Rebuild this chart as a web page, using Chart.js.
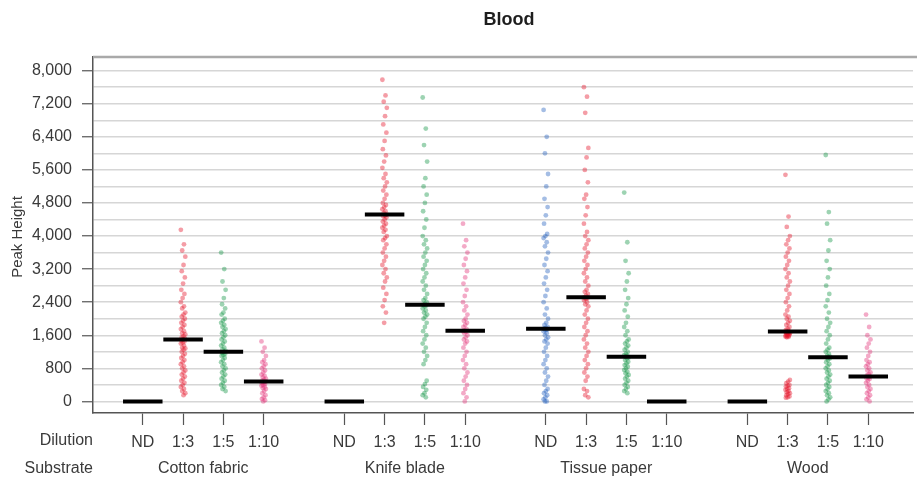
<!DOCTYPE html>
<html>
<head>
<meta charset="utf-8">
<title>Blood</title>
<script src="https://cdn.jsdelivr.net/npm/chart.js@4.4.1/dist/chart.umd.min.js"></script>
<style>
  html, body { margin: 0; padding: 0; background: #fff; }
  canvas { display: block; }
</style>
</head>
<body>
<canvas id="bloodChart" width="917" height="479"></canvas>
<script>
// x axis groups: substrate, then dilution inside each substrate
const substrates = ['Cotton fabric', 'Knife blade', 'Tissue paper', 'Wood'];
const dilutions = ['ND', '1:3', '1:5', '1:10'];

// y axis: labelled ticks every 800, grid lines every 400
const yTickValues = [0, 800, 1600, 2400, 3200, 4000, 4800, 5600, 6400, 7200, 8000];
const yGridValues = [0, 400, 800, 1200, 1600, 2000, 2400, 2800, 3200, 3600, 4000,
  4400, 4800, 5200, 5600, 6000, 6400, 6800, 7200, 7600, 8000];

// median peak height, one row per substrate, one column per dilution
const medianHeights = [
  [0, 1500, 1200, 480],
  [0, 4520, 2340, 1710],
  [1760, 2520, 1080, 0],
  [0, 1690, 1070, 600]
];

// individual peak heights per substrate / dilution
const cotton13 = [4150, 3800, 3650, 3500, 3300, 3150, 3000, 2850, 2700, 2600, 2500, 2400, 2300, 2250,
  2150, 2100, 2050, 2000, 1950, 1900, 1850, 1800, 1750, 1700, 1650, 1620, 1580, 1550, 1520, 1500,
  1480, 1450, 1420, 1400, 1350, 1300, 1280, 1250, 1200, 1150, 1100, 1050, 1000, 950, 900, 850,
  800, 750, 700, 650, 600, 550, 500, 450, 400, 350, 300, 250, 200, 150];
const cotton15 = [3600, 3200, 2900, 2700, 2500, 2350, 2250, 2150, 2100, 2000, 1950, 1900, 1850, 1800,
  1750, 1700, 1650, 1600, 1550, 1500, 1450, 1400, 1350, 1300, 1260, 1220, 1200, 1180, 1150, 1120,
  1100, 1050, 1000, 950, 900, 850, 800, 750, 700, 650, 600, 550, 500, 450, 400, 350, 300, 250];
const cotton110 = [1450, 1300, 1200, 1100, 1000, 950, 900, 850, 800, 750, 700, 650, 620, 580, 550,
  520, 500, 480, 460, 440, 420, 400, 380, 350, 320, 300, 250, 200, 150, 100, 60, 30, 0];
const knife13 = [7780, 7400, 7250, 7100, 6900, 6700, 6500, 6300, 6100, 5950, 5800, 5650, 5500, 5400,
  5300, 5200, 5100, 5000, 4900, 4800, 4750, 4700, 4650, 4600, 4560, 4520, 4500, 4480, 4450, 4400,
  4350, 4300, 4250, 4200, 4150, 4100, 4000, 3950, 3900, 3800, 3700, 3600, 3500, 3400, 3300, 3200,
  3100, 3000, 2900, 2750, 2600, 2450, 2300, 2150, 1900];
const knife15 = [7350, 6600, 6200, 5800, 5400, 5200, 5000, 4800, 4600, 4400, 4200, 4000, 3900, 3800,
  3700, 3600, 3500, 3400, 3300, 3200, 3100, 3000, 2900, 2800, 2700, 2600, 2500, 2450, 2400, 2360,
  2340, 2320, 2300, 2250, 2200, 2150, 2100, 2050, 2000, 1900, 1800, 1700, 1600, 1500, 1400, 1300,
  1200, 1100, 1000, 900, 500, 420, 350, 280, 200, 150, 100];
const knife110 = [4300, 3900, 3750, 3600, 3450, 3300, 3150, 3000, 2850, 2700, 2550, 2400, 2300, 2200,
  2100, 2000, 1950, 1900, 1850, 1800, 1750, 1720, 1700, 1680, 1650, 1600, 1550, 1500, 1450, 1400,
  1300, 1200, 1100, 1000, 900, 800, 700, 600, 500, 400, 300, 200, 100, 0];
const tissueND = [7050, 6400, 6000, 5500, 5200, 4900, 4700, 4500, 4300, 4050, 4000, 3950, 3850, 3750,
  3600, 3450, 3300, 3150, 3000, 2850, 2700, 2550, 2400, 2250, 2100, 2000, 1900, 1850, 1800, 1780,
  1760, 1740, 1720, 1700, 1650, 1600, 1550, 1500, 1450, 1400, 1300, 1200, 1100, 1000, 900, 800,
  700, 600, 500, 400, 300, 250, 200, 150, 100, 50, 0, 0];
const tissue13 = [7600, 7370, 6980, 6130, 5900, 5600, 5300, 5000, 4900, 4700, 4500, 4300, 4100, 4000,
  3900, 3800, 3700, 3600, 3500, 3400, 3300, 3200, 3100, 3000, 2900, 2800, 2700, 2650, 2600, 2560,
  2520, 2500, 2480, 2450, 2400, 2350, 2300, 2200, 2100, 2000, 1900, 1800, 1700, 1600, 1500, 1400,
  1300, 1200, 1100, 1000, 900, 800, 700, 600, 500, 300, 250, 150, 100];
const tissue15 = [5050, 3850, 3400, 3100, 2900, 2700, 2500, 2350, 2200, 2050, 1900, 1800, 1700, 1600,
  1500, 1450, 1400, 1350, 1300, 1250, 1200, 1150, 1120, 1100, 1080, 1060, 1040, 1000, 960, 920,
  880, 840, 800, 760, 720, 680, 640, 600, 550, 500, 450, 400, 350, 300, 250, 200];
const wood13 = [5480, 4470, 4220, 4000, 3900, 3800, 3700, 3600, 3500, 3400, 3300, 3200, 3100, 3000,
  2900, 2800, 2700, 2600, 2500, 2400, 2300, 2200, 2100, 2050, 2000, 1950, 1900, 1850, 1800, 1760,
  1730, 1700, 1690, 1680, 1670, 1660, 1650, 1640, 1630, 1620, 1610, 1600, 1590, 1580, 1570, 1560,
  1550, 520, 480, 440, 400, 380, 360, 320, 300, 280, 250, 220, 200, 180, 150, 120, 100, 90];
const wood15 = [5960, 4580, 4300, 3900, 3650, 3400, 3200, 3000, 2800, 2600, 2450, 2300, 2150, 2000,
  1900, 1800, 1700, 1600, 1500, 1400, 1300, 1250, 1200, 1150, 1100, 1080, 1070, 1060, 1040, 1000,
  950, 900, 850, 800, 750, 700, 650, 600, 550, 500, 450, 400, 350, 300, 250, 200, 150, 100, 50, 0];
const wood110 = [2100, 1800, 1600, 1500, 1400, 1300, 1200, 1100, 1000, 950, 900, 850, 800, 750, 700,
  660, 630, 600, 580, 560, 540, 500, 450, 400, 350, 300, 250, 200, 150, 100, 50, 0];

// which column each point set belongs to: [substrate index, dilution index, values]
const pointSets = [
  [0, 1, cotton13], [0, 2, cotton15], [0, 3, cotton110],
  [1, 1, knife13], [1, 2, knife15], [1, 3, knife110],
  [2, 0, tissueND], [2, 1, tissue13], [2, 2, tissue15],
  [3, 1, wood13], [3, 2, wood15], [3, 3, wood110]
];

// point colour per dilution
const dilutionColors = [
  'rgba(38, 98, 190, 0.42)',
  'rgba(228, 22, 44, 0.42)',
  'rgba(22, 150, 72, 0.42)',
  'rgba(226, 52, 122, 0.42)'
];

// one slot per dilution, an empty slot between substrates
function slotOf(s, d) {
  return s * 5 + d + 1;
}

const xTickPositions = [];
substrates.forEach((s, si) => dilutions.forEach((d, di) => xTickPositions.push(slotOf(si, di))));

const datasets = [];

// median bars on top
medianHeights.forEach((row, si) => {
  row.forEach((m, di) => {
    const p = slotOf(si, di);
    datasets.push({
      type: 'scatter',
      data: [{ x: p - 0.49, y: m }, { x: p + 0.49, y: m }],
      showLine: true,
      borderColor: '#000',
      borderWidth: 4,
      borderCapStyle: 'butt',
      pointRadius: 0,
      order: 0
    });
  });
});

// the strip of points for each column, with a small fixed sideways spread
pointSets.forEach(([si, di, values]) => {
  const p = slotOf(si, di);
  datasets.push({
    type: 'scatter',
    data: values.map((v, i) => ({ x: p + (((i * 7) % 11) - 5) * 0.011, y: v })),
    backgroundColor: dilutionColors[di],
    borderWidth: 0,
    pointRadius: 2.4,
    order: 1
  });
});

const FONT = '"Liberation Sans", Arial, sans-serif';

// title, axis titles, substrate row and top frame line
const decorations = {
  id: 'decorations',
  afterDraw(chart) {
    const { ctx, chartArea, scales } = chart;
    ctx.save();

    ctx.strokeStyle = '#a9a9a9';
    ctx.lineWidth = 2.5;
    ctx.beginPath();
    ctx.moveTo(chartArea.left, chartArea.top);
    ctx.lineTo(chart.width, chartArea.top);
    ctx.stroke();

    ctx.fillStyle = '#1e1e1e';
    ctx.font = 'bold 18px ' + FONT;
    ctx.textAlign = 'center';
    ctx.textBaseline = 'middle';
    ctx.fillText('Blood', 509, 20);

    ctx.fillStyle = '#3a3a3a';
    ctx.font = '16px ' + FONT;
    ctx.textAlign = 'right';
    ctx.fillText('Dilution', 93, 441);
    ctx.fillText('Substrate', 93, 469);

    ctx.textAlign = 'center';
    substrates.forEach((name, si) => {
      const cx = scales.x.getPixelForValue(slotOf(si, 0) + 1.5);
      ctx.fillText(name, cx, 469);
    });

    ctx.font = '15px ' + FONT;
    ctx.translate(18, 237);
    ctx.rotate(-Math.PI / 2);
    ctx.fillText('Peak Height', 0, 0);
    ctx.restore();
  }
};

new Chart(document.getElementById('bloodChart').getContext('2d'), {
  type: 'scatter',
  data: { datasets },
  options: {
    responsive: false,
    devicePixelRatio: 1,
    animation: false,
    layout: { padding: { top: 57, left: 0, right: 0, bottom: 0 } },
    plugins: {
      legend: { display: false },
      tooltip: { enabled: false },
      title: { display: false }
    },
    scales: {
      x: {
        type: 'linear',
        min: -0.235,
        max: 20.11,
        afterBuildTicks: (scale) => { scale.ticks = xTickPositions.map(v => ({ value: v })); },
        afterFit: (scale) => { scale.height = 66; },
        ticks: {
          autoSkip: false,
          maxRotation: 0,
          padding: 8,
          color: '#3a3a3a',
          font: { family: FONT, size: 16 },
          callback: (value, index) => dilutions[index % dilutions.length]
        },
        grid: {
          drawOnChartArea: false,
          tickLength: 12,
          tickColor: '#555',
          tickWidth: 1.2
        },
        border: { color: '#555', width: 1.5 }
      },
      y: {
        min: -280,
        max: 8330,
        afterBuildTicks: (scale) => { scale.ticks = yGridValues.map(v => ({ value: v })); },
        afterFit: (scale) => { scale.width = 93; },
        ticks: {
          autoSkip: false,
          padding: 10,
          color: '#3a3a3a',
          font: { family: FONT, size: 16 },
          callback: (value) => yTickValues.includes(value) ? value.toLocaleString('en-US') : ''
        },
        grid: {
          color: '#d6d6d6',
          lineWidth: 1.5,
          tickLength: 11,
          tickWidth: 1.2,
          tickColor: (ctx) => (ctx.tick && yTickValues.includes(ctx.tick.value)) ? '#555' : 'rgba(0,0,0,0)'
        },
        border: { color: '#555', width: 1.5 }
      }
    }
  },
  plugins: [decorations]
});
</script>
</body>
</html>
